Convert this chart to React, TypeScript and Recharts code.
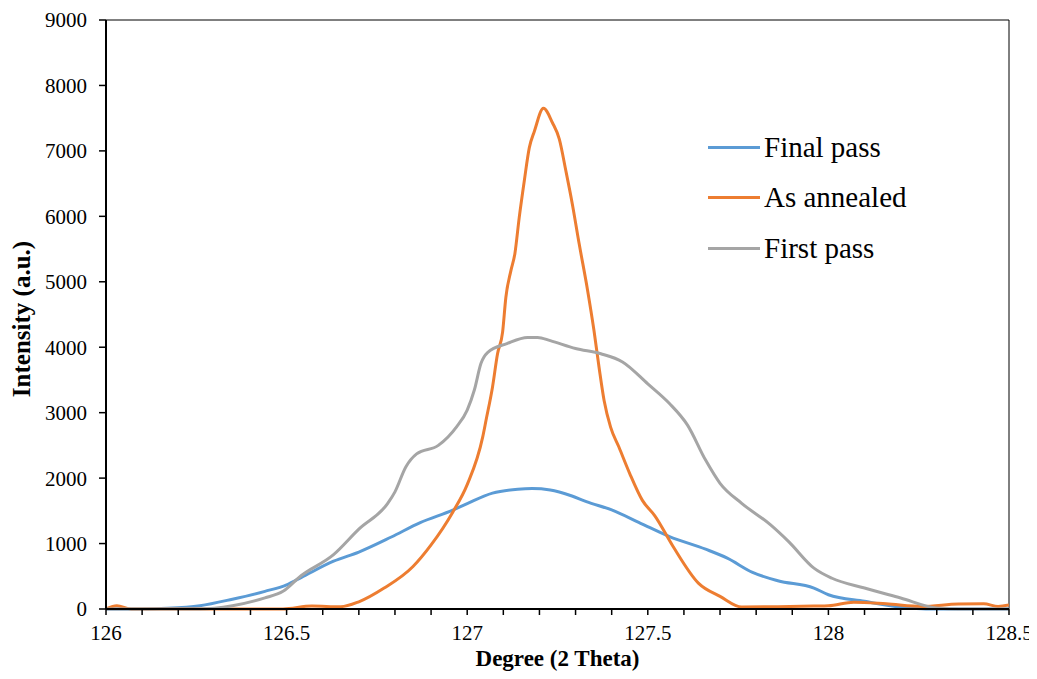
import { LineChart, Line, XAxis, YAxis, Legend, ReferenceLine, Label } from "recharts";

const finalPassDeg = [126.0, 126.1, 126.17, 126.26, 126.35, 126.44, 126.5, 126.54, 126.63, 126.7, 126.79, 126.87, 126.96, 127.0, 127.07, 127.14, 127.18, 127.23, 127.29, 127.33, 127.4, 127.48, 127.56, 127.66, 127.72, 127.79, 127.86, 127.96, 128.0, 128.1, 128.2, 128.27, 128.35, 128.5];
const finalPassVal = [0, 0, 10, 50, 150, 270, 370, 480, 730, 870, 1100, 1320, 1510, 1610, 1770, 1830, 1840, 1820, 1727, 1640, 1514, 1310, 1107, 914, 777, 559, 432, 320, 218, 117, 30, 0, 0, 0];

const annealedDeg = [126.0, 126.03, 126.07, 126.3, 126.49, 126.57, 126.65, 126.7, 126.77, 126.85, 126.9, 126.96, 127.0, 127.043, 127.052, 127.07, 127.084, 127.098, 127.107, 127.121, 127.132, 127.144, 127.158, 127.172, 127.186, 127.211, 127.236, 127.255, 127.273, 127.291, 127.31, 127.333, 127.351, 127.365, 127.379, 127.397, 127.42, 127.45, 127.485, 127.52, 127.57, 127.64, 127.7, 127.76, 127.86, 127.96, 128.0, 128.07, 128.16, 128.26, 128.36, 128.43, 128.47, 128.5];
const annealedVal = [0, 50, 0, 0, 0, 45, 35, 110, 320, 650, 980, 1480, 1900, 2630, 2880, 3390, 3900, 4230, 4760, 5170, 5430, 5980, 6540, 7050, 7300, 7650, 7430, 7180, 6700, 6190, 5580, 4880, 4255, 3695, 3187, 2780, 2475, 2070, 1660, 1420, 955, 396, 193, 30, 35, 45, 50, 105, 80, 40, 76, 80, 40, 60];

const firstPassDeg = [126.0, 126.26, 126.35, 126.44, 126.49, 126.54, 126.63, 126.7, 126.78, 126.8, 126.83, 126.86, 126.92, 126.97, 127.0, 127.02, 127.038, 127.057, 127.11, 127.167, 127.195, 127.23, 127.3, 127.37, 127.43, 127.5, 127.56, 127.61, 127.66, 127.7, 127.76, 127.84, 127.89, 127.96, 128.01, 128.1, 128.2, 128.3, 128.36, 128.5];
const firstPassVal = [0, 0, 50, 170, 270, 508, 830, 1220, 1615, 1790, 2170, 2370, 2500, 2780, 3040, 3350, 3750, 3920, 4055, 4150, 4150, 4100, 3980, 3900, 3775, 3440, 3140, 2810, 2275, 1920, 1615, 1285, 1030, 625, 470, 320, 168, 15, 0, 0];

const xTicks = [126, 126.1, 126.2, 126.3, 126.4, 126.5, 126.6, 126.7, 126.8, 126.9, 127, 127.1, 127.2, 127.3, 127.4, 127.5, 127.6, 127.7, 127.8, 127.9, 128, 128.1, 128.2, 128.3, 128.4, 128.5];
const xTickLabels = ["126", "126.5", "127", "127.5", "128", "128.5"];
const yTicks = [0, 1000, 2000, 3000, 4000, 5000, 6000, 7000, 8000, 9000];

const series = [
  { name: "Final pass", color: "#5B9BD5", deg: finalPassDeg, val: finalPassVal },
  { name: "As annealed", color: "#ED7D31", deg: annealedDeg, val: annealedVal },
  { name: "First pass", color: "#A5A5A5", deg: firstPassDeg, val: firstPassVal },
];

const font = "'Liberation Serif', 'Times New Roman', serif";

const toData = (deg: number[], val: number[]) => deg.map((d, i) => ({ x: d, y: val[i] }));

function renderLegend() {
  return (
    <div style={{ fontFamily: font, fontSize: 29, color: "#000" }}>
      {series.map((s) => (
        <div key={s.name} style={{ display: "flex", alignItems: "center", height: 50.5 }}>
          <div style={{ width: 52, height: 3, background: s.color, marginRight: 4 }} />
          <span>{s.name}</span>
        </div>
      ))}
    </div>
  );
}

function fmtX(v: number) {
  const s = String(Math.round(v * 10) / 10);
  return xTickLabels.includes(s) ? s : "";
}

function XTick(props: any) {
  const { x, y, payload } = props;
  return (
    <text x={x} y={y} dy="0.71em" textAnchor="middle" fill="#000" style={{ fontFamily: font, fontSize: 21 }}>
      {fmtX(payload.value)}
    </text>
  );
}

function YTick(props: any) {
  const { x, y, payload } = props;
  return (
    <text x={x} y={y} dy="0.355em" textAnchor="end" fill="#000" style={{ fontFamily: font, fontSize: 21 }}>
      {payload.value}
    </text>
  );
}

export default function App() {
  return (
    <div style={{ width: 1029, height: 663, fontFamily: font }}>
      <LineChart width={1029} height={663} margin={{ top: 12, right: 28, left: 0, bottom: 0 }}>
        <XAxis
          type="number"
          dataKey="x"
          domain={[126, 128.5]}
          ticks={xTicks}
          interval={0}
          allowDataOverflow
          height={62}
          tick={XTick}
          tickSize={6}
          tickMargin={10}
          axisLine={{ stroke: "#000", strokeWidth: 2 }}
          tickLine={{ stroke: "#000", strokeWidth: 1.5 }}
        >
          <Label
            value="Degree (2 Theta)"
            position="insideBottom"
            offset={5}
            style={{ fontFamily: font, fontSize: 23, fontWeight: "bold", fill: "#000" }}
          />
        </XAxis>
        <YAxis
          type="number"
          domain={[0, 9000]}
          ticks={yTicks}
          interval={0}
          width={98}
          tick={YTick}
          tickSize={7}
          tickMargin={12}
          axisLine={{ stroke: "#000", strokeWidth: 2 }}
          tickLine={{ stroke: "#000", strokeWidth: 1.5 }}
        >
          <Label
            content={() => (
              <text
                x={13}
                y={311}
                transform="rotate(-90 13 311)"
                textAnchor="middle"
                dominantBaseline="central"
                style={{ fontFamily: font, fontSize: 25, fontWeight: "bold", fill: "#000" }}
              >
                Intensity (a.u.)
              </text>
            )}
          />
        </YAxis>
        <ReferenceLine y={9000} stroke="#000" strokeWidth={1} />
        <ReferenceLine x={128.5} stroke="#000" strokeWidth={1} />
        {series.map((s) => (
          <Line
            key={s.name}
            data={toData(s.deg, s.val)}
            dataKey="y"
            name={s.name}
            type="monotone"
            stroke={s.color}
            strokeWidth={3}
            dot={false}
            activeDot={false}
            isAnimationActive={false}
          />
        ))}
        <Legend
          layout="vertical"
          align="center"
          verticalAlign="middle"
          content={renderLegend}
          wrapperStyle={{ left: 700, top: 114, width: 260 }}
        />
      </LineChart>
    </div>
  );
}
